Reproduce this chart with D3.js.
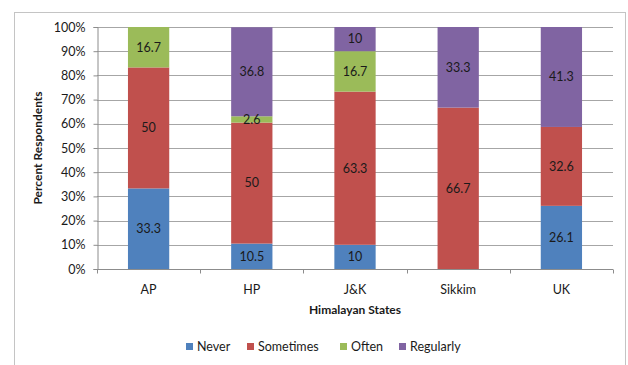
<!DOCTYPE html>
<html>
<head>
<meta charset="utf-8">
<script src="https://cdn.jsdelivr.net/npm/d3@7"></script>
<style>
  html, body { margin: 0; padding: 0; background: #fff; }
  svg { display: block; }
  text { font-family: Lato, "Open Sans", sans-serif; fill: #1a1a1a; }
</style>
</head>
<body>
<svg id="chart" width="628" height="365"></svg>
<script>
// Survey responses by Himalayan state (percent of respondents)
const states = ["AP", "HP", "J&K", "Sikkim", "UK"];
const seriesNames = ["Never", "Sometimes", "Often", "Regularly"];
const never     = [33.3, 10.5, 10, 0, 26.1];
const sometimes = [50, 50, 63.3, 66.7, 32.6];
const often     = [16.7, 2.6, 16.7, 0, 0];
const regularly = [0, 36.8, 10, 33.3, 41.3];
const yTicks = [0, 10, 20, 30, 40, 50, 60, 70, 80, 90, 100];
const colors = ["#4F81BD", "#C0504D", "#9BBB59", "#8064A2"];

const rows = states.map((s, i) => ({
  state: s, Never: never[i], Sometimes: sometimes[i], Often: often[i], Regularly: regularly[i]
}));

const svg = d3.select("#chart");

// outer chart frame
svg.append("rect")
  .attr("x", 14.5).attr("y", 12.5).attr("width", 611).attr("height", 360)
  .attr("fill", "none").attr("stroke", "#c4c4c4").attr("stroke-width", 1);

const margin = { left: 97, right: 15, top: 27, bottom: 96 };
const W = 628, H = 365;
const x = d3.scaleBand().domain(states).range([margin.left, W - margin.right]).paddingInner(0.6).paddingOuter(0.3);
const y = d3.scaleLinear().domain([0, 100]).range([H - margin.bottom, margin.top]);

// gridlines
svg.append("g").selectAll("line").data(yTicks.filter(t => t > 0)).join("line")
  .attr("x1", margin.left).attr("x2", W - margin.right)
  .attr("y1", d => Math.round(y(d)) + 0.5).attr("y2", d => Math.round(y(d)) + 0.5)
  .attr("stroke", "#a6a6a6").attr("stroke-width", 1);

// stacked bars
const stack = d3.stack().keys(seriesNames)(rows);
const layers = svg.append("g").selectAll("g").data(stack).join("g")
  .attr("fill", (d, i) => colors[i]);
layers.selectAll("rect").data(d => d).join("rect")
  .attr("x", d => x(d.data.state))
  .attr("width", x.bandwidth())
  .attr("y", d => y(d[1]))
  .attr("height", d => y(d[0]) - y(d[1]));

// value labels
stack.forEach(layer => {
  svg.append("g").selectAll("text").data(layer.filter(d => d[1] - d[0] > 0)).join("text")
    .attr("x", d => x(d.data.state) + x.bandwidth() / 2)
    .attr("y", d => y((d[0] + d[1]) / 2))
    .attr("dy", "0.35em")
    .attr("text-anchor", "middle")
    .attr("font-size", 12.5)
    .text(d => d.data[layer.key]);
});

// y axis
const yAxis = svg.append("g")
  .attr("transform", `translate(${margin.left + 0.5},0)`)
  .call(d3.axisLeft(y).tickValues(yTicks).tickSize(4).tickPadding(8).tickFormat(d => d + "%"));
yAxis.select(".domain").attr("stroke", "#8c8c8c");
yAxis.selectAll(".tick line").attr("stroke", "#8c8c8c");
yAxis.selectAll(".tick text").attr("font-size", 12.5).attr("fill", "#1a1a1a").attr("font-family", "Lato, sans-serif");

// x axis with ticks at category boundaries
const xAxisG = svg.append("g").attr("transform", `translate(0,${Math.round(y(0)) + 0.5})`);
xAxisG.append("line").attr("x1", margin.left).attr("x2", W - margin.right)
  .attr("stroke", "#8c8c8c");
const step = (W - margin.right - margin.left) / states.length;
xAxisG.selectAll("line.tk").data(d3.range(states.length + 1)).join("line")
  .attr("class", "tk")
  .attr("x1", i => Math.round(margin.left + i * step) + 0.5)
  .attr("x2", i => Math.round(margin.left + i * step) + 0.5)
  .attr("y1", 0).attr("y2", 4).attr("stroke", "#8c8c8c");
xAxisG.selectAll("text").data(states).join("text")
  .attr("x", d => x(d) + x.bandwidth() / 2)
  .attr("y", 24)
  .attr("text-anchor", "middle").attr("font-size", 12.5)
  .text(d => d);

// axis titles
svg.append("text")
  .attr("transform", `translate(42,${(y(0) + y(100)) / 2}) rotate(-90)`)
  .attr("text-anchor", "middle").attr("font-size", 12).attr("font-weight", "bold")
  .text("Percent Respondents");
svg.append("text")
  .attr("x", (margin.left + W - margin.right) / 2).attr("y", 314)
  .attr("text-anchor", "middle").attr("font-size", 12).attr("font-weight", "bold")
  .text("Himalayan States");

// legend
const legendX = [186, 247, 340, 399];
const legend = svg.append("g").selectAll("g").data(seriesNames).join("g")
  .attr("transform", (d, i) => `translate(${legendX[i]},343)`);
legend.append("rect").attr("width", 7).attr("height", 7).attr("fill", (d, i) => colors[i]);
legend.append("text").attr("x", 11).attr("y", 4).attr("dy", "0.35em")
  .attr("font-size", 12.5).text(d => d);
</script>
</body>
</html>
